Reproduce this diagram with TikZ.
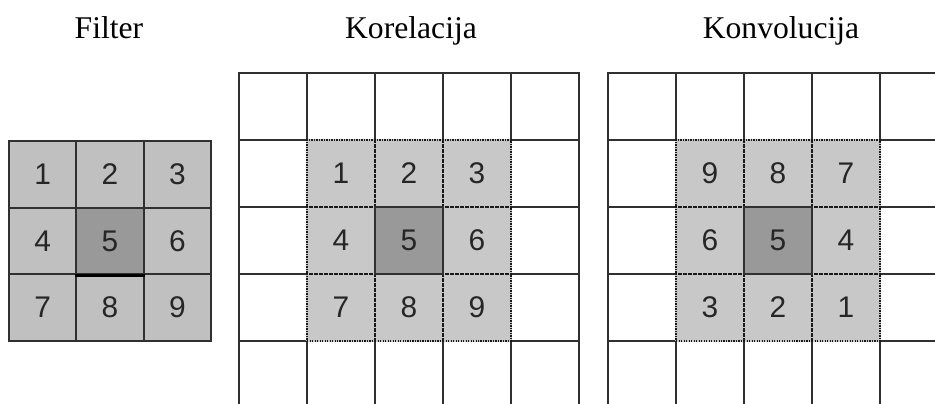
\documentclass[tikz,border=0pt]{standalone}
\usepackage{fontspec}
\setmainfont{Liberation Serif}
\newfontfamily\digitfont{Liberation Sans}
\usetikzlibrary{positioning}

\definecolor{filtgray}{HTML}{C0C0C0}
\definecolor{midgray}{HTML}{999999}
\definecolor{kergray}{HTML}{C8C8C8}
\definecolor{gridline}{HTML}{303030}

\begin{document}
\begin{tikzpicture}[x=0.02cm,y=-0.02cm,
  ttl/.style={font=\fontsize{18}{20}\selectfont,anchor=base,inner sep=0pt},
  cell/.style={rectangle,draw=gridline,fill=white,line width=0.035cm,minimum width=1.36cm,minimum height=1.34cm,inner sep=0pt},
  fcell/.style={rectangle,draw=gridline,fill=filtgray,line width=0.035cm,minimum width=1.347cm,minimum height=1.333cm,inner sep=0pt,font=\digitfont\fontsize{17}{17}\selectfont,text=black!85},
  kcell/.style={rectangle,draw=black!90,line width=0.04cm,dash pattern=on 0.025cm off 0.025cm,minimum width=1.36cm,minimum height=1.34cm,inner sep=0pt,font=\digitfont\fontsize{17}{17}\selectfont,text=black!85},
  mid/.style={kcell,solid,draw=gridline,line width=0.035cm,fill=midgray}
]
  \useasboundingbox (0,0) rectangle (935,403);
  \clip (0,0) rectangle (935,403);
  % titles
  \node[ttl](ttl-fil) at (109,38) {Filter};
  \node[ttl](ttl-kor) at (411,38) {Korelacija};
  \node[ttl](ttl-kon) at (781,38) {Konvolucija};
  % filter
  \foreach \r in {0,1,2}
    \foreach \c in {0,1,2} {
      \pgfmathtruncatemacro\n{3*\r+\c+1}
      \ifnum\n=5
        \node[fcell,fill=midgray](fil-\n) at ({42.67+67.33*\c},{174.33+66.67*\r}) {\n};
      \else
        \node[fcell](fil-\n) at ({42.67+67.33*\c},{174.33+66.67*\r}) {\n};
      \fi
    }
  \draw[line width=0.06cm,black](fil-5.south west)--(fil-5.south east);
  % image grids
  \foreach \r in {0,...,4}
    \foreach \c in {0,...,4} {
      \node[cell](kor-\r-\c) at ({273+68*\c},{106.5+67*\r}) {};
      \node[cell](kon-\r-\c) at ({642+68*\c},{106.5+67*\r}) {};
    }
  \fill[kergray](kor-1-1.north west) rectangle (kor-3-3.south east);
  \fill[kergray](kon-1-1.north west) rectangle (kon-3-3.south east);
  % kernel over the grids
  \foreach \r in {1,2,3}
    \foreach \c in {1,2,3} {
      \pgfmathtruncatemacro\n{3*(\r-1)+\c}
      \pgfmathtruncatemacro\m{10-\n}
      \ifnum\n=5\else
        \node[kcell](korf-\n) at (kor-\r-\c) {\n};
        \node[kcell](konf-\m) at (kon-\r-\c) {\m};
      \fi
    }
  \node[mid](korf-5) at (kor-2-2) {5};
  \node[mid](konf-5) at (kon-2-2) {5};
\end{tikzpicture}
\end{document}
